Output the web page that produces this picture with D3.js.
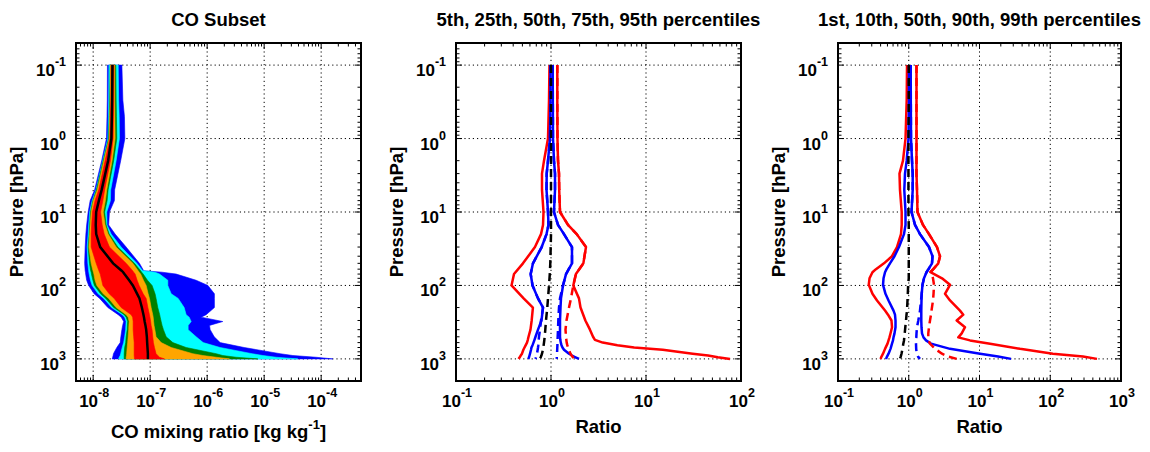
<!DOCTYPE html>
<html><head><meta charset="utf-8">
<script src="https://cdn.jsdelivr.net/npm/d3@7"></script>
<style>
body{margin:0;background:#fff}
svg{display:block}
text{font-family:"Liberation Sans",Arial,Helvetica,sans-serif;font-weight:bold;fill:#000}
</style>
</head><body>
<svg id="chart" width="1150" height="452"></svg>
<script>
// ---------------- DATA ----------------
// Panel 1: CO mixing ratio bands [kg/kg] at pressure levels [hPa]
const coLevels = [0.1,0.3,0.5,1,2,5,7,10,15,20,30,50,63,66,70,85,100,130,150,200,250,270,310,350,400,500,600,700,850,900,950,1000];
const coBlueLo   = [1.78e-8,1.77e-8,1.75e-8,1.71e-8,1.41e-8,1.06e-8,0.886e-8,0.817e-8,0.769e-8,0.745e-8,0.724e-8,0.709e-8,0.724e-8,0.733e-8,0.739e-8,0.769e-8,0.834e-8,1.04e-8,1.30e-8,1.81e-8,2.75e-8,3.10e-8,3.43e-8,3.29e-8,3.19e-8,3.06e-8,2.98e-8,2.60e-8,2.27e-8,2.24e-8,2.20e-8,2.15e-8];
const coCyanLo   = [1.89e-8,1.87e-8,1.85e-8,1.81e-8,1.47e-8,1.12e-8,0.96e-8,0.868e-8,0.834e-8,0.817e-8,0.785e-8,0.807e-8,0.834e-8,0.841e-8,0.851e-8,0.897e-8,0.96e-8,1.22e-8,1.53e-8,2.11e-8,3.23e-8,3.57e-8,3.79e-8,3.75e-8,3.72e-8,3.57e-8,3.43e-8,3.23e-8,3.04e-8,2.98e-8,2.86e-8,2.80e-8];
const coGreenLo  = [1.99e-8,1.95e-8,1.91e-8,1.86e-8,1.50e-8,1.14e-8,0.988e-8,0.897e-8,0.868e-8,0.851e-8,0.817e-8,0.861e-8,0.904e-8,0.922e-8,0.933e-8,0.988e-8,1.05e-8,1.35e-8,1.66e-8,2.29e-8,3.50e-8,3.79e-8,4.03e-8,3.98e-8,3.95e-8,3.79e-8,3.72e-8,3.57e-8,3.50e-8,3.50e-8,3.50e-8,3.50e-8];
const coOrangeLo = [2.01e-8,1.99e-8,1.95e-8,1.91e-8,1.54e-8,1.18e-8,1.01e-8,0.922e-8,0.886e-8,0.868e-8,0.841e-8,0.922e-8,0.992e-8,1.01e-8,1.03e-8,1.08e-8,1.16e-8,1.50e-8,1.87e-8,2.53e-8,3.79e-8,4.11e-8,4.28e-8,4.23e-8,4.20e-8,4.11e-8,4.03e-8,3.95e-8,3.87e-8,3.84e-8,3.79e-8,3.79e-8];
const coRedLo    = [2.07e-8,2.05e-8,2.01e-8,1.96e-8,1.62e-8,1.25e-8,1.08e-8,0.972e-8,0.941e-8,0.922e-8,0.922e-8,1.13e-8,1.26e-8,1.29e-8,1.33e-8,1.41e-8,1.48e-8,1.91e-8,2.34e-8,3.10e-8,4.64e-8,4.93e-8,5.03e-8,5.03e-8,5.03e-8,5.14e-8,5.24e-8,5.24e-8,5.24e-8,5.24e-8,5.28e-8,5.30e-8];
const coMedian   = [2.18e-8,2.15e-8,2.13e-8,2.09e-8,1.83e-8,1.41e-8,1.26e-8,1.13e-8,1.11e-8,1.13e-8,1.33e-8,2.24e-8,3.16e-8,3.36e-8,3.54e-8,4.28e-8,4.97e-8,5.91e-8,6.49e-8,7.15e-8,7.63e-8,7.78e-8,8.01e-8,8.27e-8,8.51e-8,8.75e-8,8.86e-8,8.97e-8,9.12e-8,9.12e-8,9.12e-8,9.12e-8];
const coRedHi    = [2.31e-8,2.29e-8,2.27e-8,2.24e-8,2.01e-8,1.59e-8,1.48e-8,1.35e-8,1.44e-8,1.56e-8,1.93e-8,3.79e-8,4.93e-8,5.14e-8,5.45e-8,5.91e-8,6.41e-8,7.54e-8,8.51e-8,9.12e-8,9.72e-8,9.91e-8,1.02e-7,1.04e-7,1.08e-7,1.11e-7,1.14e-7,1.19e-7,1.27e-7,1.36e-7,1.46e-7,1.78e-7];
const coOrangeHi = [2.40e-8,2.40e-8,2.41e-8,2.43e-8,2.15e-8,1.73e-8,1.64e-8,1.50e-8,1.62e-8,1.83e-8,2.53e-8,4.97e-8,6.15e-8,6.41e-8,6.81e-8,7.63e-8,8.51e-8,9.22e-8,9.72e-8,1.04e-7,1.11e-7,1.13e-7,1.15e-7,1.17e-7,1.21e-7,1.27e-7,1.56e-7,2.34e-7,5.61e-7,8.41e-7,1.44e-6,2.46e-6];
const coGreenHi  = [2.50e-8,2.53e-8,2.56e-8,2.60e-8,2.29e-8,1.83e-8,1.76e-8,1.59e-8,1.69e-8,1.91e-8,2.71e-8,5.30e-8,6.81e-8,7.09e-8,7.54e-8,8.97e-8,1.08e-7,1.22e-7,1.27e-7,1.36e-7,1.47e-7,1.50e-7,1.56e-7,1.62e-7,1.71e-7,1.91e-7,2.50e-7,4.28e-7,1.44e-6,1.88e-6,3.23e-6,7.75e-6];
const coCyanHi   = [2.75e-8,2.80e-8,2.86e-8,2.89e-8,2.53e-8,2.03e-8,2.01e-8,1.73e-8,1.75e-8,2.07e-8,3.10e-8,5.85e-8,7.39e-8,1.22e-7,1.46e-7,2.04e-7,2.04e-7,2.34e-7,3.10e-7,3.95e-7,4.28e-7,4.83e-7,5.24e-7,4.64e-7,4.64e-7,6.41e-7,8.51e-7,1.69e-6,6.15e-6,9.48e-6,1.625e-5,3.90e-5];
const coBlueHi   = [3.19e-8,3.32e-8,3.54e-8,3.60e-8,3.04e-8,2.38e-8,2.36e-8,1.93e-8,1.87e-8,2.43e-8,3.79e-8,6.49e-8,7.69e-8,1.62e-7,2.86e-7,6.41e-7,1.03e-6,1.34e-6,1.34e-6,1.34e-6,9.60e-7,7.85e-7,1.88e-6,1.10e-6,1.13e-6,1.33e-6,1.69e-6,4.46e-6,1.91e-5,3.19e-5,8.17e-5,1.60e-4];

// Panel 2: ratio percentiles (5th,25th,50th,75th,95th)
const r2Levels = [0.1,0.3,1,2,3,5,10,15,20,30,50,70,100,150,200,300,400,500,550,600,650,700,750,850,900,950,1000];
const r2P05  = [0.964,0.953,0.930,0.844,0.804,0.804,0.834,0.824,0.785,0.678,0.507,0.408,0.384,0.515,0.645,0.626,0.608,0.580,0.570,0.559,0.542,0.526,0.512,0.495,0.480,0.468,0.455];
const r2P25  = [0.988,0.988,0.976,0.930,0.901,0.897,0.930,0.941,0.897,0.798,0.646,0.611,0.639,0.730,0.824,0.794,0.730,0.687,0.670,0.654,0.639,0.623,0.616,0.601,0.594,0.587,0.577];
const r2P50  = [1,1,1,1,1,1,1,1,1,0.993,0.983,0.971,0.953,0.930,0.914,0.886,0.871,0.858,0.851,0.844,0.837,0.830,0.822,0.804,0.792,0.779,0.766];
const r2P75  = [1.042,1.045,1.050,1.075,1.102,1.102,1.075,1.185,1.370,1.663,1.663,1.439,1.338,1.274,1.259,1.244,1.244,1.244,1.253,1.268,1.290,1.321,1.370,1.547,1.663,1.811,1.972];
const r2P95  = [1.165,1.165,1.17,1.185,1.214,1.22,1.244,1.51,1.865,2.335,2.19,1.83,1.716,1.97,2.045,2.3,2.57,2.77,2.9,3.5,5.0,7.5,15,31,45,57,76.6];
const r2P25b = [0.988,0.988,0.976,0.930,0.901,0.897,0.930,0.941,0.897,0.798,0.646,0.611,0.639,0.730,0.824,0.785,0.766,0.747,0.743,0.739,0.735,0.730,0.724,0.712,0.704,0.695,0.687];
const r2P75b = [1.042,1.045,1.050,1.075,1.102,1.102,1.075,1.185,1.370,1.663,1.663,1.439,1.338,1.244,1.214,1.194,1.185,1.176,1.173,1.170,1.168,1.165,1.162,1.157,1.154,1.151,1.148];
const r2P95b = [1.165,1.165,1.17,1.185,1.214,1.22,1.244,1.51,1.865,2.335,2.19,1.83,1.716,1.624,1.547,1.456,1.421,1.439,1.45,1.463,1.485,1.510,1.54,1.604,1.65,1.70,1.746];

// Panel 3: ratio percentiles (1st,10th,50th,90th,99th)
const r3Levels = [0.1,0.3,1,2,3,5,10,15,20,30,40,50,60,66,80,98,130,160,220,250,300,370,450,510,560,620,730,850,930,1000];
const r3P01  = [0.945,0.935,0.900,0.829,0.740,0.752,0.795,0.795,0.777,0.682,0.580,0.447,0.344,0.307,0.279,0.272,0.307,0.356,0.462,0.509,0.570,0.580,0.552,0.534,0.518,0.501,0.462,0.433,0.412,0.399];
const r3P10  = [1.008,1.008,0.992,0.935,0.885,0.865,0.900,0.900,0.857,0.728,0.629,0.543,0.485,0.462,0.440,0.433,0.469,0.518,0.609,0.639,0.650,0.650,0.629,0.609,0.599,0.580,0.552,0.518,0.493,0.477];
const r3P50  = [1,1,0.99,0.99,0.99,0.99,0.99,1,1,1,1,1,1,1,1,0.98,0.97,0.96,0.945,0.93,0.915,0.894,0.877,0.865,0.857,0.838,0.816,0.790,0.770,0.752];
const r3P90  = [1.066,1.069,1.076,1.112,1.137,1.137,1.094,1.226,1.442,1.933,2.165,2.130,1.901,1.781,1.642,1.564,1.524,1.514,1.504,1.504,1.504,1.514,1.539,1.616,1.754,2.063,3.83,10.2,18.3,27.9];
const r3P99  = [1.287,1.287,1.287,1.287,1.287,1.308,1.329,1.59,1.933,2.508,2.765,2.617,2.223,2.03,2.951,3.83,3.253,3.83,5.30,5.90,4.76,6.24,5.60,5.02,7.34,14.1,37.4,109,290,458];
const r3P90b = [1.066,1.069,1.076,1.112,1.137,1.137,1.094,1.226,1.442,1.933,2.165,2.130,1.901,1.781,1.642,1.564,1.524,1.490,1.442,1.410,1.365,1.308,1.287,1.279,1.266,1.266,1.274,1.295,1.351,1.442];
const r3P99b = [1.287,1.287,1.287,1.287,1.287,1.308,1.329,1.59,1.933,2.508,2.765,2.617,2.223,2.03,2.202,2.275,2.24,2.202,2.097,2.062,1.997,1.933,1.889,1.889,1.901,1.997,2.35,2.951,3.587,4.76];

// Ticks / labels
const pressureTicks = [0.1,1,10,100,1000];
const coXTicks = [1e-8,1e-7,1e-6,1e-5,1e-4];
const r2XTicks = [0.1,1,10,100];
const r3XTicks = [0.1,1,10,100,1000];
const titles = ["CO Subset","5th, 25th, 50th, 75th, 95th percentiles","1st, 10th, 50th, 90th, 99th percentiles"];
const xTitles = ["CO mixing ratio [kg kg","Ratio","Ratio"];
const yTitle = "Pressure [hPa]";

// ---------------- LAYOUT ----------------
const svg = d3.select("#chart");
const plotTop = 43, plotBottom = 381;
const panelX = [[76,361],[456,741],[838,1121]];
const y = d3.scaleLog().domain([0.05,2000]).range([plotTop,plotBottom]);
const xs = [
  d3.scaleLog().domain([5e-9,5e-4]).range(panelX[0]),
  d3.scaleLog().domain([0.1,100]).range(panelX[1]),
  d3.scaleLog().domain([0.1,1000]).range(panelX[2])
];
const xTickSets = [coXTicks, r2XTicks, r3XTicks];
const isMajor = v => Math.abs(Math.log10(v) - Math.round(Math.log10(v))) < 1e-6;

function label10(sel, v, anchor){
  const e = Math.round(Math.log10(v));
  sel.attr("text-anchor", anchor);
  sel.append("tspan").attr("font-size",17).text("10");
  sel.append("tspan").attr("font-size",12.5).attr("dy",-10).text(e);
}

function drawGrid(g, x){
  const [l,r] = x.range();
  const xt = x.ticks().filter(isMajor).filter(v => x(v) > l+1 && x(v) < r-1);
  g.selectAll(null).data(xt).join("line")
    .attr("x1",d=>x(d)).attr("x2",d=>x(d)).attr("y1",plotTop).attr("y2",plotBottom)
    .attr("stroke","#000").attr("stroke-width",1).attr("stroke-dasharray","1.2,3");
  g.selectAll(null).data(pressureTicks).join("line")
    .attr("x1",l).attr("x2",r).attr("y1",d=>y(d)).attr("y2",d=>y(d))
    .attr("stroke","#000").attr("stroke-width",1).attr("stroke-dasharray","1.2,3");
}

function drawFrame(g, x, i){
  const [l,r] = x.range();
  const xt = x.ticks(), yt = y.ticks();
  const L = v => isMajor(v) ? 6 : 3.5;
  const tk = g.append("g").attr("stroke","#000").attr("stroke-width",1);
  xt.forEach(v=>{
    const px = x(v);
    if (px < l+0.5 || px > r-0.5) return;
    tk.append("line").attr("x1",px).attr("x2",px).attr("y1",plotBottom).attr("y2",plotBottom-L(v));
    tk.append("line").attr("x1",px).attr("x2",px).attr("y1",plotTop).attr("y2",plotTop+L(v));
  });
  yt.forEach(v=>{
    const py = y(v);
    if (py < plotTop+0.5 || py > plotBottom-0.5) return;
    tk.append("line").attr("x1",l).attr("x2",l+L(v)).attr("y1",py).attr("y2",py);
    tk.append("line").attr("x1",r).attr("x2",r-L(v)).attr("y1",py).attr("y2",py);
  });
  g.append("rect").attr("x",l).attr("y",plotTop).attr("width",r-l).attr("height",plotBottom-plotTop)
    .attr("fill","none").attr("stroke","#000").attr("stroke-width",2);

  xTickSets[i].forEach(v=>{
    g.append("text").attr("x",x(v)+1).attr("y",407).call(s=>label10(s,v,"middle"));
  });
  pressureTicks.forEach(v=>{
    g.append("text").attr("x",l-10).attr("y",y(v)+11).call(s=>label10(s,v,"end"));
  });
  g.append("text").attr("x",(l+r)/2).attr("y",26).attr("text-anchor","middle").attr("font-size",18.5).text(titles[i]);
  const xt2 = g.append("text").attr("x",(l+r)/2).attr("y", i===0 ? 438 : 433).attr("text-anchor","middle").attr("font-size",18.5);
  xt2.append("tspan").text(xTitles[i]);
  if (i===0){
    xt2.append("tspan").attr("font-size",13).attr("dy",-9).text("-1");
    xt2.append("tspan").attr("dy",9).text("]");
  }
  g.append("text").attr("transform",`translate(${l-53},${(plotTop+plotBottom)/2}) rotate(-90)`)
    .attr("text-anchor","middle").attr("font-size",18.5).text(yTitle);
}

// ---------------- PANEL 1 ----------------
{
  const x = xs[0];
  const g = svg.append("g");
  drawGrid(g, x);
  const bands = [
    {lo:coBlueLo, hi:coBlueHi, c:"#0000ff"},
    {lo:coCyanLo, hi:coCyanHi, c:"#00ffff"},
    {lo:coGreenLo, hi:coGreenHi, c:"#008000"},
    {lo:coOrangeLo, hi:coOrangeHi, c:"#ffa500"},
    {lo:coRedLo, hi:coRedHi, c:"#ff0000"}
  ];
  const area = d3.area().y(d=>y(d.p)).x0(d=>x(d.lo)).x1(d=>x(d.hi));
  bands.forEach(b=>{
    const data = coLevels.map((p,k)=>({p, lo:b.lo[k], hi:b.hi[k]}));
    g.append("path").datum(data).attr("d",area).attr("fill",b.c).attr("stroke",b.c).attr("stroke-width",0.6);
  });
  const line = d3.line().x(d=>x(d.v)).y(d=>y(d.p));
  g.append("path").datum(coLevels.map((p,k)=>({p, v:coMedian[k]})))
    .attr("d",line).attr("fill","none").attr("stroke","#000").attr("stroke-width",2.5);
  drawFrame(g, x, 0);
}

// ---------------- PANELS 2 & 3 ----------------
function ratioPanel(i, levels, series){
  const x = xs[i];
  const g = svg.append("g");
  drawGrid(g, x);
  const line = d3.line().x(d=>x(d.v)).y(d=>y(d.p));
  series.forEach(s=>{
    g.append("path").datum(levels.map((p,k)=>({p, v:s.v[k]})))
      .attr("d",line).attr("fill","none").attr("stroke",s.c).attr("stroke-width",2.5)
      .attr("stroke-linejoin","round")
      .attr("stroke-dasharray", s.dash ? "8,5" : null);
  });
  drawFrame(g, x, i);
}
ratioPanel(1, r2Levels, [
  {v:r2P05, c:"#ff0000"}, {v:r2P95, c:"#ff0000"},
  {v:r2P25, c:"#0000ff"}, {v:r2P75, c:"#0000ff"},
  {v:r2P95b, c:"#ff0000", dash:true},
  {v:r2P25b, c:"#0000ff", dash:true}, {v:r2P75b, c:"#0000ff", dash:true},
  {v:r2P50, c:"#000000", dash:true}
]);
ratioPanel(2, r3Levels, [
  {v:r3P01, c:"#ff0000"}, {v:r3P99, c:"#ff0000"},
  {v:r3P10, c:"#0000ff"}, {v:r3P90, c:"#0000ff"},
  {v:r3P99b, c:"#ff0000", dash:true},
  {v:r3P90b, c:"#0000ff", dash:true},
  {v:r3P50, c:"#000000", dash:true}
]);
</script>
</body></html>
